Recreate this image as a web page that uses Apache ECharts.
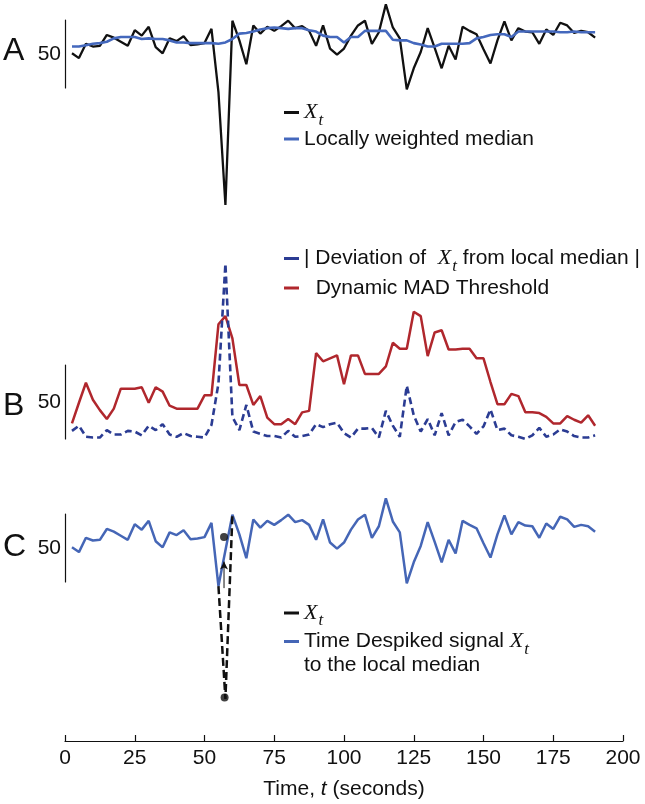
<!DOCTYPE html>
<html>
<head>
<meta charset="utf-8">
<script src="https://cdn.jsdelivr.net/npm/echarts@6/dist/echarts.min.js"></script>
<style>html,body{margin:0;padding:0;background:#fff}#c{width:645px;height:804px}</style>
</head>
<body>
<div id="c"></div>
<script>
// ---- data ----
const times = [2.5,5,7.5,10,12.5,15,17.5,20,22.5,25,27.5,30,32.5,35,37.5,40,42.5,45,47.5,50,
  52.5,55,57.5,60,62.5,65,67.5,70,72.5,75,77.5,80,82.5,85,87.5,90,92.5,95,97.5,100,
  102.5,105,107.5,110,112.5,115,117.5,120,122.5,125,127.5,130,132.5,135,137.5,140,142.5,145,147.5,150,
  152.5,155,157.5,160,162.5,165,167.5,170,172.5,175,177.5,180,182.5,185,187.5,190];

const rawSignal = [51,44,65,61,62,78,74,68,62,85,77,90,60,51,73,69,76,63,64,66,
  87,-6,-172,99,70,35,92,80,90,84,91,99,88,91,84,62,92,58,49,58,
  77,92,99,65,82,123,89,73,-2,29,53,88,59,29,62,42,90,84,79,57,
  36,70,98,70,88,83,82,65,86,78,96,92,81,84,82,74];

const localMedian = [61,61,63,65,66,68,73,75,75,75,72,73,72,72,70,67,67,66,66,66,
  66,65,67,72,80,81,83,86,88,89,88,87,88,88,85,83,77,75,75,67,
  75,75,84,84,84,84,71,70,70,66,64,61,61,65,65,65,65,66,73,75,
  78,79,79,75,83,83,83,83,83,83,82,82,83,82,82,82];

const deviation = [11,18,3,2,2,12,6,6,11,10,5,18,12,20,6,3,8,4,3,2,
  19,75,237,30,12,46,10,7,4,4,2,11,3,4,6,20,16,20,22,8,
  2,14,14,15,2,38,18,3,72,32,10,27,5,35,5,23,26,17,7,17,
  40,12,14,5,3,0,5,15,3,6,13,10,4,2,2,5];

const madThreshold = [21,49,76,53,39,27,41,68,68,68,70,49,70,64,45,41,41,41,41,59,
  59,155,166,136,73,73,46,58,29,20,20,27,20,36,38,116,105,109,113,74,
  113,113,88,88,88,98,130,122,122,172,166,112,144,147,121,121,122,122,109,109,
  77,47,47,61,58,36,36,35,30,21,21,31,26,22,32,18];

const despiked = [51,44,65,61,62,78,74,68,62,85,77,90,60,51,73,69,76,63,64,66,
  87,-6,null,99,70,35,92,80,90,84,91,99,88,91,84,62,92,58,49,58,
  77,92,99,65,82,123,89,73,-2,29,53,88,59,29,62,42,90,84,79,57,
  36,70,98,70,88,83,82,65,86,78,96,92,81,84,82,74];

const spikeTimes = [55, 57.5, 60];
const spikeValues = [-6, -172, 99];
const dotTimes = [57, 57.2];
const dotValues = [66, -170];
const arrowTimes = [57, 57];
const arrowValues = [-9, 30];

const xTicks = [0, 200, 25]; // min, max, interval

// ---- styles ----
const SANS = 'Liberation Sans, Arial, Helvetica, sans-serif';
const SERIF = 'Liberation Serif, Times New Roman, serif';
const BLACK = '#111111';
const BLUE = '#4468bd';
const NAVY = '#2b3c93';
const RED = '#b0272d';
const BLUE_C = '#4566b6';

const pairs = (xs, ys) => xs.map((x, i) => [x, ys[i]]);

const RICH = {
  n: {fontSize: 21, fontFamily: SANS, color: BLACK},
  x: {fontSize: 22, fontFamily: SERIF, fontStyle: 'italic', color: BLACK},
  s: {fontSize: 17, fontFamily: SERIF, fontStyle: 'italic', color: BLACK, padding: [16, 0, 0, 1]}
};

function leg(name, top, label) {
  return {
    data: [name], left: 284, top: top, orient: 'horizontal', icon: 'rect',
    itemWidth: 15, itemHeight: 3, padding: 0, selectedMode: false,
    itemStyle: {borderWidth: 0},
    formatter: () => label,
    textStyle: {fontSize: 21, color: BLACK, fontFamily: SANS, rich: RICH}
  };
}

const grids = [
  {left: 65, width: 558, top: 20, height: 68, outerBoundsMode: 'none', containLabel: false},
  {left: 65, width: 558, top: 365, height: 74, outerBoundsMode: 'none', containLabel: false},
  {left: 65, width: 558, top: 514, height: 68, outerBoundsMode: 'none', containLabel: false}
];

function yAx(i) {
  return {
    gridIndex: i, type: 'value', min: 0, max: 100, interval: 50,
    axisLine: {show: true, lineStyle: {color: BLACK, width: 1.2}},
    axisTick: {show: false}, splitLine: {show: false},
    axisLabel: {formatter: v => (v === 50 ? '50' : ''), fontSize: 21, color: BLACK, fontFamily: SANS, margin: 4}
  };
}
function xAx(i, show) {
  return {
    gridIndex: i, type: 'value', min: xTicks[0], max: xTicks[1], interval: xTicks[2],
    show: show, position: 'bottom', offset: show ? 159 : 0,
    axisLine: {show: true, onZero: false, lineStyle: {color: BLACK, width: 1.2}},
    axisTick: {show: true, inside: true, length: 6, lineStyle: {color: BLACK, width: 1.2}},
    splitLine: {show: false},
    axisLabel: {fontSize: 21, color: BLACK, fontFamily: SANS, margin: 7},
    name: '{n|Time, }{i|t}{n| (seconds)}', nameLocation: 'middle', nameGap: 38,
    nameTextStyle: {rich: {
      n: {fontSize: 21, fontFamily: SANS, color: BLACK},
      i: {fontSize: 21, fontFamily: SANS, fontStyle: 'italic', color: BLACK}
    }}
  };
}

const chart = echarts.init(document.getElementById('c'), null, {renderer: 'canvas'});
chart.setOption({
  animation: false,
  backgroundColor: '#ffffff',
  grid: grids,
  xAxis: [xAx(0, false), xAx(1, false), xAx(2, true)],
  yAxis: [yAx(0), yAx(1), yAx(2)],
  legend: [
    leg('Xt', 101.5, '{x|X}{s|t}'),
    leg('Locally weighted median', 128.5, '{n|Locally weighted median}'),
    leg('Deviation', 247.5, '{n|| Deviation of  }{x|X}{s|t}{n| from local median |}'),
    leg('Dynamic MAD Threshold', 277.5, '{n|  Dynamic MAD Threshold}'),
    leg('Xt raw', 602, '{x|X}{s|t}'),
    leg('Time Despiked', 630.5, '{n|Time Despiked signal }{x|X}{s|t}')
  ],
  graphic: [
    {type: 'text', x: 3, y: 51, style: {text: 'A', fontSize: 32, fontFamily: SANS, fill: BLACK, verticalAlign: 'middle'}},
    {type: 'text', x: 3, y: 406, style: {text: 'B', fontSize: 32, fontFamily: SANS, fill: BLACK, verticalAlign: 'middle'}},
    {type: 'text', x: 3, y: 547, style: {text: 'C', fontSize: 32, fontFamily: SANS, fill: BLACK, verticalAlign: 'middle'}},
    {type: 'text', x: 304, y: 665, style: {text: 'to the local median', fontSize: 21, fontFamily: SANS, fill: BLACK, verticalAlign: 'middle'}}
  ],
  series: [
    {name: 'Xt', type: 'line', xAxisIndex: 0, yAxisIndex: 0, data: pairs(times, rawSignal),
      showSymbol: false, clip: false, z: 3,
      lineStyle: {color: BLACK, width: 2.3}, itemStyle: {color: BLACK}},
    {name: 'Locally weighted median', type: 'line', xAxisIndex: 0, yAxisIndex: 0, data: pairs(times, localMedian),
      showSymbol: false, clip: false, z: 4,
      lineStyle: {color: BLUE, width: 2.6}, itemStyle: {color: BLUE}},
    {name: 'Dynamic MAD Threshold', type: 'line', xAxisIndex: 1, yAxisIndex: 1, data: pairs(times, madThreshold),
      showSymbol: false, clip: false, z: 3,
      lineStyle: {color: RED, width: 2.5}, itemStyle: {color: RED}},
    {name: 'Deviation', type: 'line', xAxisIndex: 1, yAxisIndex: 1, data: pairs(times, deviation),
      showSymbol: false, clip: false, z: 4,
      lineStyle: {color: NAVY, width: 2.6, type: [7, 4]}, itemStyle: {color: NAVY}},
    {name: 'Time Despiked', type: 'line', xAxisIndex: 2, yAxisIndex: 2, data: pairs(times, despiked),
      showSymbol: false, clip: false, connectNulls: true, z: 3,
      lineStyle: {color: BLUE_C, width: 2.5}, itemStyle: {color: BLUE_C}},
    {name: 'Xt raw', type: 'line', xAxisIndex: 2, yAxisIndex: 2, data: pairs(spikeTimes, spikeValues),
      showSymbol: false, clip: false, z: 4,
      lineStyle: {color: BLACK, width: 2.5, type: [8, 4]}, itemStyle: {color: BLACK}},
    {name: 'arrow', type: 'line', xAxisIndex: 2, yAxisIndex: 2, clip: false, z: 5,
      showSymbol: true, showAllSymbol: true,
      data: [{value: [arrowTimes[0], arrowValues[0]], symbol: 'none'},
             {value: [arrowTimes[1], arrowValues[1]], symbol: 'arrow', symbolSize: [6, 8]}],
      lineStyle: {color: BLACK, width: 1}, itemStyle: {color: BLACK}},
    {name: 'dots', type: 'scatter', xAxisIndex: 2, yAxisIndex: 2, data: pairs(dotTimes, dotValues),
      symbolSize: 8, clip: false, z: 6, itemStyle: {color: BLACK}}
  ]
});
</script>
</body>
</html>
